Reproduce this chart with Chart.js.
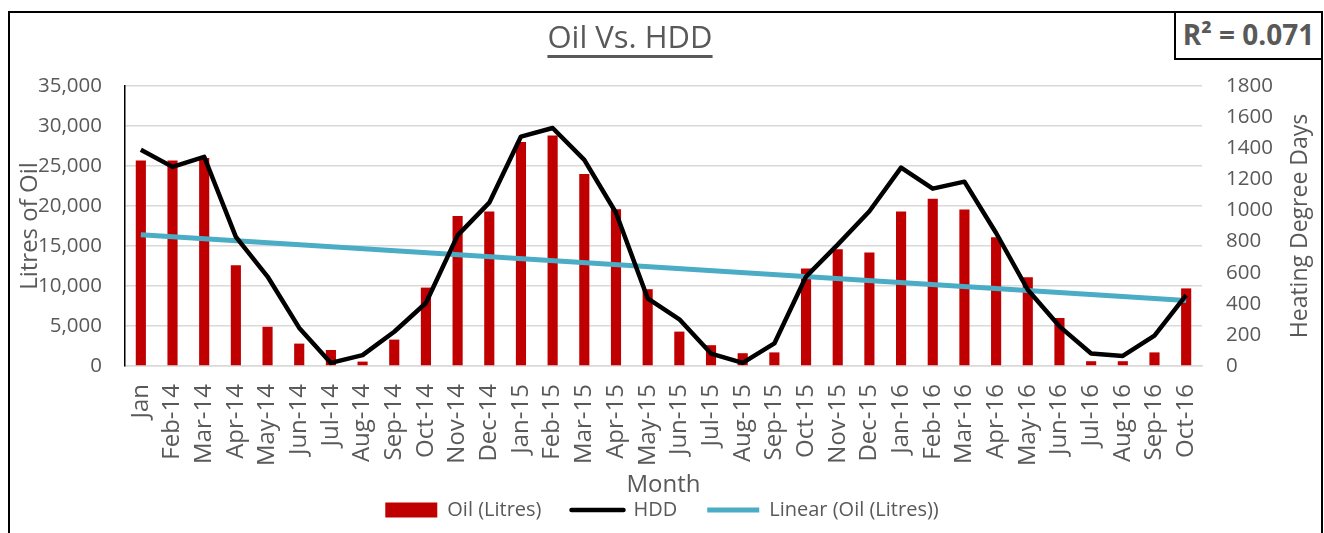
<!DOCTYPE html>
<html>
<head>
<meta charset="utf-8">
<title>Oil Vs. HDD</title>
<script src="https://cdn.jsdelivr.net/npm/chart.js@4.4.1/dist/chart.umd.min.js"></script>
<style>
  body { margin: 0; background: #fff; }
  #wrap { position: relative; width: 1324px; height: 533px; overflow: hidden; background: #fff; }
  #frame {
    position: absolute; left: 8px; top: 11px; width: 1315px; height: 600px;
    border: 2.5px solid #000; box-sizing: border-box; pointer-events: none;
  }
  #rsq {
    position: absolute; left: 1174px; top: 11px; width: 149px; height: 49px;
    border: 2.5px solid #000; box-sizing: border-box; background: #fff;
    font: bold 28px 'Open Sans', sans-serif; color: #595959;
    text-align: center; line-height: 42px;
  }
  #title {
    position: absolute; left: 430px; top: 20px; width: 400px; text-align: center;
    font: 31px 'Open Sans', sans-serif; color: #595959; line-height: 32px;
    text-decoration: underline; text-decoration-thickness: 2.5px; text-underline-offset: 7px;
  }
</style>
</head>
<body>
<div id="wrap">
  <canvas id="myChart" width="1324" height="533"></canvas>
  <div id="title">Oil Vs. HDD</div>
  <div id="frame"></div>
  <div id="rsq">R² = 0.071</div>
</div>
<script>
'use strict';

const months = ['Jan', 'Feb-14', 'Mar-14', 'Apr-14', 'May-14', 'Jun-14', 'Jul-14', 'Aug-14', 'Sep-14', 'Oct-14', 'Nov-14', 'Dec-14',
  'Jan-15', 'Feb-15', 'Mar-15', 'Apr-15', 'May-15', 'Jun-15', 'Jul-15', 'Aug-15', 'Sep-15', 'Oct-15', 'Nov-15', 'Dec-15',
  'Jan-16', 'Feb-16', 'Mar-16', 'Apr-16', 'May-16', 'Jun-16', 'Jul-16', 'Aug-16', 'Sep-16', 'Oct-16'];

const oilLitres = [25700, 25700, 26000, 12600, 4900, 2800, 2000, 550, 3300, 9800, 18750, 19300,
  28000, 28800, 24000, 19600, 9600, 4300, 2600, 1600, 1700, 12200, 14600, 14200,
  19300, 20900, 19550, 16100, 11100, 6000, 600, 600, 1700, 9700];

const heatingDegreeDays = [1390, 1280, 1345, 830, 575, 245, 20, 70, 220, 405, 840, 1050,
  1475, 1530, 1325, 985, 435, 300, 80, 20, 145, 575, 780, 995,
  1275, 1140, 1185, 855, 490, 255, 80, 65, 195, 455];

// excel trendline at first and last month
const oilTrendEnds = [16400, 8200];

const oilTicks = [0, 5000, 10000, 15000, 20000, 25000, 30000, 35000];
const hddTicks = [0, 200, 400, 600, 800, 1000, 1200, 1400, 1600, 1800];

const textGrey = '#595959';
const gridGrey = '#D9D9D9';
const fontName = "'Open Sans', sans-serif";

const trendData = months.map((m, i) => {
  if (i === 0) return oilTrendEnds[0];
  if (i === months.length - 1) return oilTrendEnds[1];
  return null;
});

// right axis title reads bottom to top, chart.js would turn it the other way
const rightTitlePlugin = {
  id: 'rightTitle',
  afterDraw(chart) {
    const ctx = chart.ctx;
    const area = chart.chartArea;
    ctx.save();
    ctx.translate(1300, (area.top + area.bottom) / 2);
    ctx.rotate(-Math.PI / 2);
    ctx.font = "23px 'Open Sans'";
    ctx.fillStyle = textGrey;
    ctx.textAlign = 'center';
    ctx.textBaseline = 'middle';
    ctx.fillText('Heating Degree Days', 0, 0);
    ctx.restore();
  }
};

function legendLabels(chart) {
  return chart.data.datasets.map((ds, i) => {
    const isBar = ds.type === 'bar';
    return {
      text: ds.label,
      fillStyle: isBar ? ds.backgroundColor : ds.borderColor,
      strokeStyle: isBar ? ds.backgroundColor : ds.borderColor,
      lineWidth: isBar ? 0 : ds.borderWidth,
      lineCap: i === 1 ? 'round' : 'butt',
      pointStyle: isBar ? 'rect' : 'line',
      fontColor: textGrey,
      hidden: false,
      datasetIndex: i,
    };
  });
}

const data = {
  labels: months,
  datasets: [
    {
      type: 'bar',
      label: 'Oil (Litres)',
      data: oilLitres,
      backgroundColor: '#C00000',
      yAxisID: 'y',
      categoryPercentage: 1,
      barPercentage: 0.32,
      order: 3,
    },
    {
      type: 'line',
      label: 'HDD',
      data: heatingDegreeDays,
      borderColor: '#000000',
      borderWidth: 4.5,
      pointRadius: 0,
      tension: 0,
      borderJoinStyle: 'round',
      yAxisID: 'y1',
      order: 1,
    },
    {
      type: 'line',
      label: 'Linear (Oil (Litres))',
      data: trendData,
      borderColor: '#4BACC6',
      borderWidth: 5,
      pointRadius: 0,
      spanGaps: true,
      yAxisID: 'y',
      order: 2,
    },
  ],
};

const config = {
  data: data,
  plugins: [rightTitlePlugin],
  options: {
    responsive: false,
    animation: false,
    layout: { padding: { top: 86, left: 0, right: 0, bottom: 3 } },
    plugins: {
      tooltip: { enabled: false },
      legend: {
        position: 'bottom',
        labels: {
          usePointStyle: true,
          pointStyleWidth: 52,
          boxHeight: 15,
          padding: 30,
          color: textGrey,
          font: { family: fontName, size: 20 },
          generateLabels: legendLabels,
        },
      },
    },
    scales: {
      x: {
        offset: true,
        grid: { display: false, drawTicks: false },
        border: { color: gridGrey, width: 1.5 },
        ticks: {
          autoSkip: false,
          minRotation: 90,
          maxRotation: 90,
          padding: 18,
          color: textGrey,
          font: { family: fontName, size: 24 },
        },
        title: {
          display: true,
          text: 'Month',
          color: textGrey,
          font: { family: fontName, size: 24 },
          padding: { top: 0, bottom: -30 },
        },
        afterFit: (scale) => { scale.height = 104; },
      },
      y: {
        position: 'left',
        min: oilTicks[0],
        max: oilTicks[oilTicks.length - 1],
        grid: { color: gridGrey, lineWidth: 1.5, drawTicks: false },
        border: { color: '#000000', width: 1.5 },
        ticks: {
          stepSize: oilTicks[1] - oilTicks[0],
          padding: 23,
          color: textGrey,
          font: { family: fontName, size: 20.5 },
          callback: (value) => value.toLocaleString('en-US'),
        },
        title: {
          display: true,
          text: 'Litres of Oil',
          color: textGrey,
          font: { family: fontName, size: 24 },
          padding: { top: 16, bottom: 0 },
        },
        afterFit: (scale) => { scale.width = 125; },
      },
      y1: {
        position: 'right',
        min: hddTicks[0],
        max: hddTicks[hddTicks.length - 1],
        grid: { display: false, drawTicks: false },
        border: { display: false },
        ticks: {
          stepSize: hddTicks[1] - hddTicks[0],
          padding: 24,
          color: textGrey,
          font: { family: fontName, size: 20.5 },
          callback: (value) => String(value),
        },
        afterFit: (scale) => { scale.width = 122; },
      },
    },
  },
};

const canvasChart = document.getElementById('myChart');
new Chart(canvasChart, config);
</script>
</body>
</html>
